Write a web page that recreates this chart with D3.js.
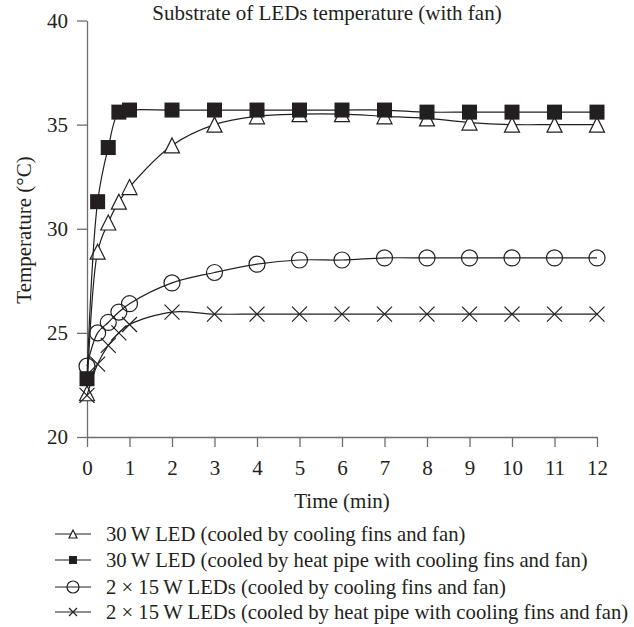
<!DOCTYPE html>
<html>
<head>
<meta charset="utf-8">
<script src="https://cdn.jsdelivr.net/npm/d3@7"></script>
<style>
  html, body { margin: 0; padding: 0; background: #fff; }
  svg { display: block; font-family: "Liberation Serif", "DejaVu Serif", serif; }
</style>
</head>
<body>
<svg id="chart" width="634" height="627"></svg>
<script>
// time points (min)
const time = [0, 0.25, 0.5, 0.75, 1, 2, 3, 4, 5, 6, 7, 8, 9, 10, 11, 12];

// substrate temperatures (°C)
const led30Fins = [22.1, 28.9, 30.3, 31.3, 32.0, 34.0, 35.0, 35.4, 35.5, 35.5, 35.4, 35.3, 35.1, 35.0, 35.0, 35.0];
const led30Pipe = [22.8, 31.3, 33.9, 35.6, 35.7, 35.7, 35.7, 35.7, 35.7, 35.7, 35.7, 35.6, 35.6, 35.6, 35.6, 35.6];
const led15Fins = [23.4, 25.0, 25.5, 26.0, 26.4, 27.4, 27.9, 28.3, 28.5, 28.5, 28.6, 28.6, 28.6, 28.6, 28.6, 28.6];
const led15Pipe = [22.0, 23.5, 24.4, 25.0, 25.4, 26.0, 25.9, 25.9, 25.9, 25.9, 25.9, 25.9, 25.9, 25.9, 25.9, 25.9];

const xTicks = [0, 1, 2, 3, 4, 5, 6, 7, 8, 9, 10, 11, 12];
const yTicks = [20, 25, 30, 35, 40];

const labels = [
  "30\u2009W LED (cooled by cooling fins and fan)",
  "30\u2009W LED (cooled by heat pipe with cooling fins and fan)",
  "2 \u00d7 15\u2009W LEDs (cooled by cooling fins and fan)",
  "2 \u00d7 15\u2009W LEDs (cooled by heat pipe with cooling fins and fan)"
];

const INK = "#231f20", AXIS = "#6d6e71";
const FS = 21, LEG_FS = 20.7;

const series = [
  { name: labels[0], values: led30Fins, marker: "triangle" },
  { name: labels[1], values: led30Pipe, marker: "square" },
  { name: labels[2], values: led15Fins, marker: "circle" },
  { name: labels[3], values: led15Pipe, marker: "cross" }
];

const svg = d3.select("#chart");
const x = d3.scaleLinear().domain([0, 12]).range([87, 597]);
const y = d3.scaleLinear().domain([20, 40]).range([437, 20.5]);

// axes
const gx = svg.append("g").attr("transform", `translate(0,${y(20)})`)
  .call(d3.axisBottom(x).tickValues(xTicks).tickSize(10).tickSizeOuter(0).tickPadding(13));
const gy = svg.append("g").attr("transform", `translate(${x(0)},0)`)
  .call(d3.axisLeft(y).tickValues(yTicks).tickSize(10).tickSizeOuter(0).tickPadding(9));
[gx, gy].forEach((g) => {
  g.select(".domain").attr("stroke", AXIS).attr("stroke-width", 1.3);
  g.selectAll(".tick line").attr("stroke", AXIS).attr("stroke-width", 1.3);
  g.selectAll(".tick text").attr("fill", INK).attr("font-size", FS)
    .attr("font-family", "Liberation Serif, serif");
});

// marker shapes
function drawMarker(sel, type, s) {
  const h = s / 2;
  if (type === "triangle") {
    sel.append("path").attr("d", `M0,${-h}L${h},${h}L${-h},${h}Z`)
      .attr("fill", "#fff").attr("stroke", INK).attr("stroke-width", 1.2);
  } else if (type === "square") {
    sel.append("rect").attr("x", -h).attr("y", -h).attr("width", s).attr("height", s)
      .attr("fill", INK);
  } else if (type === "circle") {
    sel.append("circle").attr("r", h).attr("fill", "none")
      .attr("stroke", INK).attr("stroke-width", 1.2);
  } else {
    sel.append("path").attr("d", `M${-h},${-h}L${h},${h}M${h},${-h}L${-h},${h}`)
      .attr("stroke", INK).attr("stroke-width", 1.2);
  }
}

const line = d3.line().x((d) => x(d[0])).y((d) => y(d[1])).curve(d3.curveCatmullRom.alpha(0.5));

// squares go last so they sit on top, as in the figure
const drawOrder = [0, 2, 3, 1];
drawOrder.forEach((i) => {
  const s = series[i];
  const pts = time.map((t, k) => [t, s.values[k]]);
  const g = svg.append("g");
  g.append("path").datum(pts).attr("d", line)
    .attr("fill", "none").attr("stroke", INK).attr("stroke-width", 1.2);
  pts.forEach((p) => {
    const m = g.append("g").attr("transform", `translate(${x(p[0])},${y(p[1])})`);
    drawMarker(m, s.marker, s.marker === "circle" ? 16 : 15);
  });
});

// title and axis labels
svg.append("text").attr("x", 327).attr("y", 20).attr("text-anchor", "middle")
  .attr("font-size", FS).attr("fill", INK).text("Substrate of LEDs temperature (with fan)");

svg.append("text").attr("x", 342).attr("y", 508).attr("text-anchor", "middle")
  .attr("font-size", FS).attr("fill", INK).text("Time (min)");

svg.append("text").attr("transform", "translate(31,230) rotate(-90)").attr("text-anchor", "middle")
  .attr("font-size", FS).attr("fill", INK).text("Temperature (°C)");

// legend
const legendY = [534, 560, 587, 612];
series.forEach((s, i) => {
  const g = svg.append("g").attr("transform", `translate(0,${legendY[i]})`);
  g.append("line").attr("x1", 55).attr("x2", 91).attr("stroke", INK).attr("stroke-width", 1.2);
  const m = g.append("g").attr("transform", "translate(73,0)");
  drawMarker(m, s.marker, s.marker === "circle" ? 12 : 8);
  g.append("text").attr("x", 106).attr("y", 7).attr("font-size", LEG_FS).attr("fill", INK).text(s.name);
});
</script>
</body>
</html>
